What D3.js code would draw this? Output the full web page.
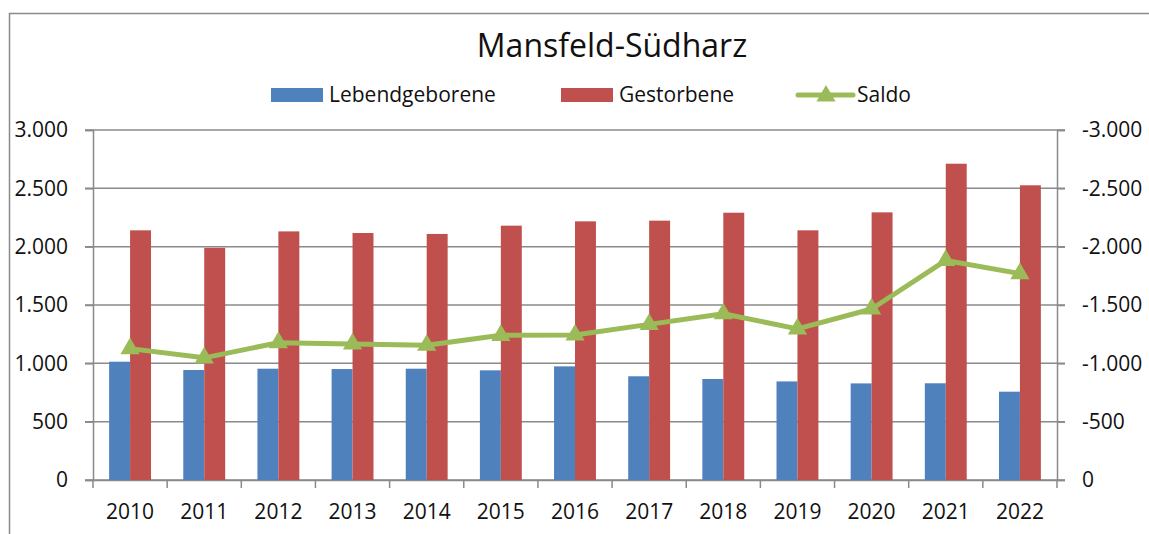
<!DOCTYPE html>
<html>
<head>
  <meta charset="utf-8">
  <script src="https://cdn.jsdelivr.net/npm/d3@7"></script>
  <style>
    body { margin: 0; background: #fff; }
    svg text { font-family: 'Liberation Sans Narrow', 'Open Sans', sans-serif; fill: #111; }
  </style>
</head>
<body>
  <svg id="chart" width="1149" height="534"></svg>

  <script>
  // data
  const years = ['2010', '2011', '2012', '2013', '2014', '2015', '2016',
                 '2017', '2018', '2019', '2020', '2021', '2022'];
  const lebendgeborene = [1014, 943, 954, 951, 954, 940, 974, 889, 866, 845, 828, 829, 757];
  const gestorbene     = [2140, 1990, 2131, 2117, 2109, 2180, 2217, 2223, 2291, 2140, 2294, 2711, 2526];
  const saldo          = [-1126, -1047, -1177, -1166, -1155, -1240, -1243, -1334, -1425, -1295, -1466, -1882, -1769];
  const leftTicks  = [0, 500, 1000, 1500, 2000, 2500, 3000];
  const rightTicks = [0, -500, -1000, -1500, -2000, -2500, -3000];

  const seriesNames = ['Lebendgeborene', 'Gestorbene'];
  const colors = { Lebendgeborene: '#4f81bd', Gestorbene: '#c0504d', Saldo: '#9bbb59' };
  const axisColor = '#8a8a8a';

  const de = d3.formatLocale({ decimal: ',', thousands: '.', grouping: [3], currency: ['', ' €'], minus: '-' });
  const fmt = de.format(',d');

  const svg = d3.select('#chart');
  const plot = { left: 93, right: 1057, top: 130, bottom: 480 };

  // outer chart frame (cropped at right and bottom in the original)
  svg.append('rect')
    .attr('x', 9.5).attr('y', 13.5)
    .attr('width', 1200).attr('height', 600)
    .attr('fill', 'none').attr('stroke', axisColor).attr('stroke-width', 1.5);

  const x = d3.scaleBand().domain(years).range([plot.left, plot.right]).padding(0);
  const xSub = d3.scaleBand().domain(seriesNames).range([0, x.bandwidth()])
    .paddingInner(0).paddingOuter(0.77);
  const y = d3.scaleLinear().domain([0, 3000]).range([plot.bottom, plot.top]);
  const y2 = d3.scaleLinear().domain([0, -3000]).range([plot.bottom, plot.top]);

  // gridlines
  svg.append('g')
    .selectAll('line')
    .data(leftTicks)
    .join('line')
    .attr('x1', plot.left - 8).attr('x2', plot.right + 8)
    .attr('y1', d => y(d)).attr('y2', d => y(d))
    .attr('stroke', axisColor).attr('stroke-width', 1.5);

  // left axis
  const leftAxis = svg.append('g')
    .attr('transform', `translate(${plot.left},0)`)
    .call(d3.axisLeft(y).tickValues(leftTicks).tickFormat(fmt).tickSize(8).tickPadding(17));
  // right axis
  const rightAxis = svg.append('g')
    .attr('transform', `translate(${plot.right},0)`)
    .call(d3.axisRight(y2).tickValues(rightTicks).tickFormat(fmt).tickSize(8).tickPadding(17));
  // bottom axis, ticks on category boundaries
  const bottomAxis = svg.append('g')
    .attr('transform', `translate(0,${plot.bottom})`)
    .call(d3.axisBottom(x).tickSize(0).tickPadding(24));
  bottomAxis.append('g')
    .selectAll('line')
    .data(years.concat(['end']))
    .join('line')
    .attr('x1', (d, i) => plot.left + i * x.step())
    .attr('x2', (d, i) => plot.left + i * x.step())
    .attr('y1', 0).attr('y2', 8)
    .attr('stroke', axisColor).attr('stroke-width', 1.5);

  [leftAxis, rightAxis, bottomAxis].forEach(g => {
    g.select('.domain').attr('stroke', axisColor).attr('stroke-width', 1.5);
    g.selectAll('.tick line').attr('stroke', axisColor).attr('stroke-width', 1.5);
    g.selectAll('.tick text').attr('font-size', 21).attr('fill', '#111')
      .attr('font-family', "'Liberation Sans Narrow', 'Open Sans', sans-serif");
  });

  // bars
  const barData = years.map((yr, i) => ({
    year: yr,
    values: [
      { key: 'Lebendgeborene', value: lebendgeborene[i] },
      { key: 'Gestorbene', value: gestorbene[i] }
    ]
  }));
  svg.append('g')
    .selectAll('g')
    .data(barData)
    .join('g')
    .attr('transform', d => `translate(${x(d.year)},0)`)
    .selectAll('rect')
    .data(d => d.values)
    .join('rect')
    .attr('x', d => xSub(d.key))
    .attr('width', xSub.bandwidth())
    .attr('y', d => y(d.value))
    .attr('height', d => y(0) - y(d.value))
    .attr('fill', d => colors[d.key]);

  // saldo line on the reversed right axis
  const saldoData = years.map((yr, i) => ({ year: yr, value: saldo[i] }));
  const line = d3.line()
    .x(d => x(d.year) + x.bandwidth() / 2)
    .y(d => y2(d.value));
  svg.append('path')
    .datum(saldoData)
    .attr('d', line)
    .attr('fill', 'none')
    .attr('stroke', colors.Saldo)
    .attr('stroke-width', 5)
    .attr('stroke-linejoin', 'round');

  const tri = d3.symbol(d3.symbolTriangle, 160);
  svg.append('g')
    .selectAll('path')
    .data(saldoData)
    .join('path')
    .attr('d', tri)
    .attr('transform', d => `translate(${x(d.year) + x.bandwidth() / 2},${y2(d.value)})`)
    .attr('fill', colors.Saldo);

  // title
  svg.append('text')
    .attr('x', 612).attr('y', 57)
    .attr('text-anchor', 'middle')
    .attr('font-size', 32)
    .text('Mansfeld-Südharz');

  // legend
  const legend = svg.append('g');
  const legendItems = [
    { key: 'Lebendgeborene', x: 271 },
    { key: 'Gestorbene', x: 561 }
  ];
  legend.selectAll('rect')
    .data(legendItems)
    .join('rect')
    .attr('x', d => d.x).attr('y', 88)
    .attr('width', 52).attr('height', 14)
    .attr('fill', d => colors[d.key]);
  legend.selectAll('text.bar-label')
    .data(legendItems)
    .join('text')
    .attr('class', 'bar-label')
    .attr('x', d => d.x + 58).attr('y', 102)
    .attr('font-size', 21)
    .text(d => d.key);

  legend.append('line')
    .attr('x1', 798).attr('x2', 853).attr('y1', 95).attr('y2', 95)
    .attr('stroke', colors.Saldo).attr('stroke-width', 5).attr('stroke-linecap', 'round');
  legend.append('path')
    .attr('d', tri)
    .attr('transform', 'translate(826,96)')
    .attr('fill', colors.Saldo);
  legend.append('text')
    .attr('x', 857).attr('y', 102)
    .attr('font-size', 21)
    .text('Saldo');
  </script>
</body>
</html>
